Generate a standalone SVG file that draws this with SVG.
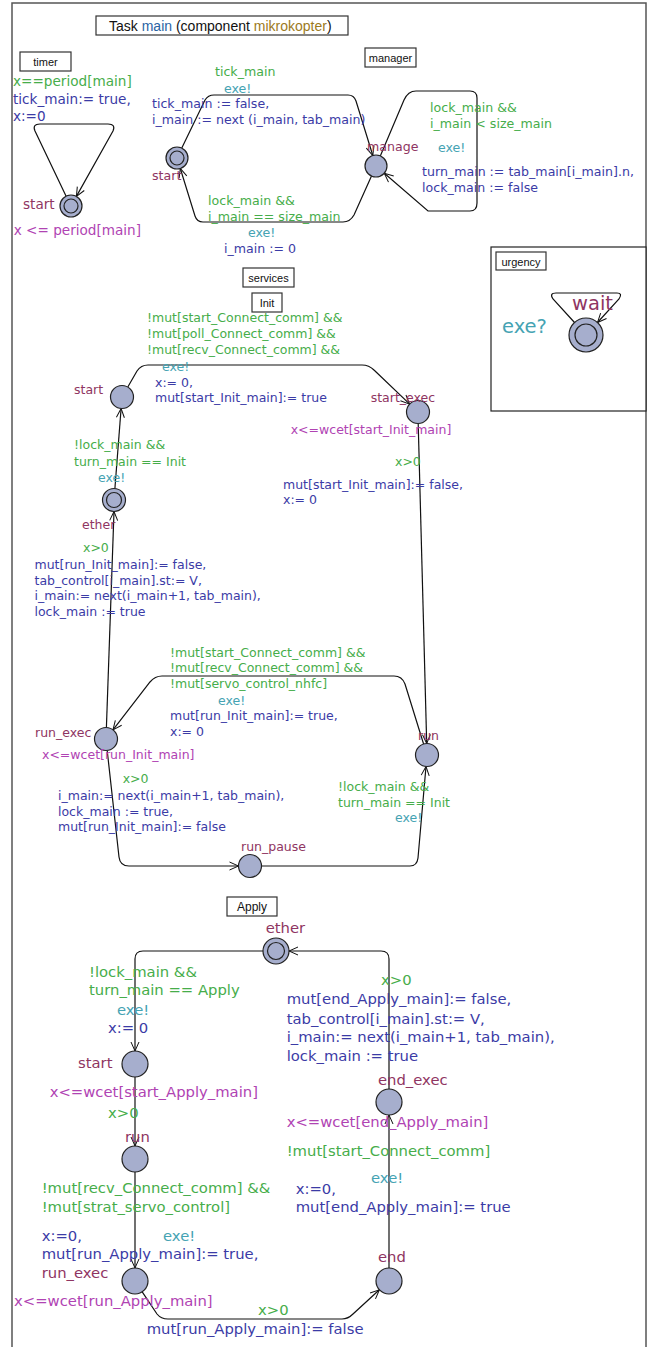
<svg xmlns="http://www.w3.org/2000/svg" width="652" height="1347" viewBox="0 0 652 1347">
<defs>
<marker id="ah" markerWidth="12" markerHeight="12" refX="10" refY="6" orient="auto" markerUnits="userSpaceOnUse"><path d="M1,2 L10,6 L1,10" fill="none" stroke="#111" stroke-width="1"/></marker>
</defs>
<style>
text{font-family:"DejaVu Sans","Noto Sans",sans-serif;}
.lbl{font-family:"Liberation Sans",Arial,sans-serif;fill:#111;}
.box{fill:#fff;stroke:#333;stroke-width:1.2;}
.g{fill:#46ad4a;}
.s{fill:#45a3b3;}
.u{fill:#3b3ba6;}
.n{fill:#8f3562;}
.i{fill:#b043b3;}
.f1{font-size:13.6px;}
.f2{font-size:12.6px;}
.f3{font-size:12.5px;}
.f4{font-size:14.8px;}
.f5{font-size:19.5px;}
.loc{fill:#a6aecd;stroke:#222;stroke-width:1.2;}
.inner{fill:none;stroke:#222;stroke-width:1.2;}
.e{fill:none;stroke:#111;stroke-width:1.2;marker-end:url(#ah);}
</style>
<rect x="0" y="0" width="652" height="1347" fill="#fff"/>
<rect x="12" y="3" width="634" height="1370" fill="none" stroke="#555" stroke-width="1.5"/>
<g id="title">
<rect class="box" x="96" y="16" width="252" height="19"/>
<text class="lbl" x="109" y="31" font-size="14">Task <tspan fill="#2a64a4">main</tspan> (component <tspan fill="#9c7a1c">mikrokopter</tspan>)</text>
</g>
<g id="boxes">
<rect class="box" x="20" y="52" width="51" height="19"/><text class="lbl" x="45.5" y="66" font-size="11" text-anchor="middle">timer</text>
<rect class="box" x="365" y="48" width="51" height="19"/><text class="lbl" x="390.5" y="62" font-size="11" text-anchor="middle">manager</text>
<rect x="491" y="247" width="155" height="164" fill="#fff" stroke="#222" stroke-width="1.2"/>
<rect class="box" x="496" y="252" width="50" height="18"/><text class="lbl" x="521" y="266" font-size="11" text-anchor="middle">urgency</text>
<rect class="box" x="243" y="268" width="51" height="19"/><text class="lbl" x="268.5" y="282" font-size="11" text-anchor="middle">services</text>
<rect class="box" x="252" y="293" width="30" height="19"/><text class="lbl" x="267" y="307" font-size="11" text-anchor="middle">Init</text>
<rect class="box" x="227" y="897" width="50" height="19"/><text class="lbl" x="252" y="911" font-size="12" text-anchor="middle">Apply</text>
</g>
<g id="connectors">
<path class="e" d="M66,196 L35,131 Q32,124 40,124 L108,124 Q116,124 113,131 L76.4,196.4"/>
<path class="e" d="M181.8,148 L205,100 Q208,95 214,95 L348,95 Q354,95 356,101 L372.8,155.5"/>
<path class="e" d="M371.5,176 L354,215 Q350,222 343,222 L203,222 Q197,222 195,216 L180.3,168.5"/>
<path class="e" d="M380.3,156 L404,100 Q408,91 416,91 L470,91 Q477,91 477,98 L477,203 Q477,211 470,211 L428,211 L384.3,173.2"/>
<path class="e" d="M574.5,322.5 L553,299 Q549,293 556,293 L617,293 Q623,293 619,299 L597.5,322.5"/>
<path class="e" d="M114.9,488.5 L121.1,408.5"/>
<path class="e" d="M127.8,387 L137,371 Q141,365 148,365 L362,365 Q369,365 374,370 L409.7,404.1"/>
<path class="e" d="M418.2,423.5 L426.7,743.5"/>
<path class="e" d="M423.6,744 L405,684 Q402,676 394,676 L162,676 Q155,676 150,682 L113,729.9"/>
<path class="e" d="M106.4,727.5 L114,511.5"/>
<path class="e" d="M107.2,750.5 L119,857 Q120,866 129,866 L238.5,866"/>
<path class="e" d="M261.5,866 L410,866 Q417,866 418,858 L426,766.5"/>
<path class="e" d="M263,951 L143,951 Q135,951 135,959 L135,1051"/>
<path class="e" d="M135,1077 L135,1146"/>
<path class="e" d="M135,1172 L135,1268"/>
<path class="e" d="M142.2,1291.8 L157,1314 Q161,1319 168,1319 L342,1319 Q348,1319 353,1314 L379.4,1289.8"/>
<path class="e" d="M389,1268 L389,1115"/>
<path class="e" d="M389,1089 L389,959 Q389,951 381,951 L289,951"/>
</g>
<g id="labels">
<text class="f1 g" x="13" y="86">x==period[main]</text>
<text class="f1 u" x="13" y="104">tick_main:= true,</text>
<text class="f1 u" x="13" y="121">x:=0</text>
<text class="f2 g" x="215" y="76">tick_main</text>
<text class="f2 s" x="224" y="93">exe!</text>
<text class="f2 u" x="152" y="108">tick_main := false,</text>
<text class="f2 u" x="152" y="124">i_main := next (i_main, tab_main)</text>
<text class="f2 g" x="208" y="205">lock_main &amp;&amp;</text>
<text class="f2 g" x="208" y="221">i_main == size_main</text>
<text class="f2 s" x="248" y="237">exe!</text>
<text class="f2 u" x="224" y="253">i_main := 0</text>
<text class="f2 g" x="430" y="112">lock_main &amp;&amp;</text>
<text class="f2 g" x="430" y="128">i_main &lt; size_main</text>
<text class="f2 s" x="438" y="152">exe!</text>
<text class="f2 u" x="422" y="176">turn_main := tab_main[i_main].n,</text>
<text class="f2 u" x="422" y="192">lock_main := false</text>
<text class="f5 s" x="502" y="333">exe?</text>
<text class="f3 g" x="147" y="322">!mut[start_Connect_comm] &amp;&amp;</text>
<text class="f3 g" x="147" y="338">!mut[poll_Connect_comm] &amp;&amp;</text>
<text class="f3 g" x="147" y="354">!mut[recv_Connect_comm] &amp;&amp;</text>
<text class="f3 s" x="162" y="371">exe!</text>
<text class="f3 u" x="155" y="387">x:= 0,</text>
<text class="f3 u" x="155" y="402">mut[start_Init_main]:= true</text>
<text class="f3 g" x="74" y="449">!lock_main &amp;&amp;</text>
<text class="f3 g" x="74" y="466">turn_main == Init</text>
<text class="f3 s" x="98" y="482">exe!</text>
<text class="f3 g" x="395" y="466">x&gt;0</text>
<text class="f3 u" x="283" y="489">mut[start_Init_main]:= false,</text>
<text class="f3 u" x="283" y="504">x:= 0</text>
<text class="f3 g" x="83" y="552">x&gt;0</text>
<text class="f3 u" x="34.5" y="569">mut[run_Init_main]:= false,</text>
<text class="f3 u" x="34.5" y="585">tab_control[i_main].st:= V,</text>
<text class="f3 u" x="34.5" y="600">i_main:= next(i_main+1, tab_main),</text>
<text class="f3 u" x="34.5" y="616">lock_main := true</text>
<text class="f3 g" x="170" y="657">!mut[start_Connect_comm] &amp;&amp;</text>
<text class="f3 g" x="170" y="672">!mut[recv_Connect_comm] &amp;&amp;</text>
<text class="f3 g" x="170" y="688">!mut[servo_control_nhfc]</text>
<text class="f3 s" x="218" y="705">exe!</text>
<text class="f3 u" x="170" y="720">mut[run_Init_main]:= true,</text>
<text class="f3 u" x="170" y="736">x:= 0</text>
<text class="f3 g" x="122.7" y="783">x&gt;0</text>
<text class="f3 u" x="58" y="800">i_main:= next(i_main+1, tab_main),</text>
<text class="f3 u" x="58" y="816">lock_main := true,</text>
<text class="f3 u" x="58" y="831">mut[run_Init_main]:= false</text>
<text class="f3 g" x="338" y="791">!lock_main &amp;&amp;</text>
<text class="f3 g" x="338" y="807">turn_main == Init</text>
<text class="f3 s" x="395" y="822">exe!</text>
<text class="f4 g" x="89" y="977">!lock_main &amp;&amp;</text>
<text class="f4 g" x="89" y="995">turn_main == Apply</text>
<text class="f4 s" x="117" y="1015">exe!</text>
<text class="f4 u" x="108" y="1033">x:= 0</text>
<text class="f4 g" x="108" y="1118">x&gt;0</text>
<text class="f4 g" x="41.7" y="1193">!mut[recv_Connect_comm] &amp;&amp;</text>
<text class="f4 g" x="41.7" y="1212">!mut[strat_servo_control]</text>
<text class="f4 u" x="41.7" y="1241">x:=0,</text>
<text class="f4 s" x="163" y="1241">exe!</text>
<text class="f4 u" x="41.7" y="1259">mut[run_Apply_main]:= true,</text>
<text class="f4 g" x="258" y="1315">x&gt;0</text>
<text class="f4 u" x="146.7" y="1334">mut[run_Apply_main]:= false</text>
<text class="f4 g" x="286.7" y="1156">!mut[start_Connect_comm]</text>
<text class="f4 s" x="371" y="1183">exe!</text>
<text class="f4 u" x="295.7" y="1194">x:=0,</text>
<text class="f4 u" x="295.7" y="1212">mut[end_Apply_main]:= true</text>
<text class="f4 g" x="381" y="985">x&gt;0</text>
<text class="f4 u" x="286.7" y="1004">mut[end_Apply_main]:= false,</text>
<text class="f4 u" x="286.7" y="1024">tab_control[i_main].st:= V,</text>
<text class="f4 u" x="286.7" y="1042">i_main:= next(i_main+1, tab_main),</text>
<text class="f4 u" x="286.7" y="1061">lock_main := true</text>
</g>
<g id="timer_start"><circle class="loc" cx="71" cy="206" r="11"/><circle class="inner" cx="71" cy="206" r="7"/><text class="f1 n" x="23" y="209">start</text><text class="f1 i" x="13.7" y="235">x &lt;= period[main]</text></g>
<g id="manager_start"><circle class="loc" cx="177" cy="158" r="11"/><circle class="inner" cx="177" cy="158" r="7"/><text class="f2 n" x="152" y="180">start</text></g>
<g id="manager_manage"><circle class="loc" cx="376" cy="166" r="11"/><text class="f2 n" x="367" y="151">manage</text></g>
<g id="urgency_wait"><circle class="loc" cx="586" cy="335" r="17"/><circle class="inner" cx="586" cy="335" r="11"/><text class="f5 n" x="572" y="310">wait</text></g>
<g id="init_start"><circle class="loc" cx="122" cy="397" r="11.5"/><text class="f3 n" x="74" y="394">start</text></g>
<g id="init_ether"><circle class="loc" cx="114" cy="500" r="11.5"/><circle class="inner" cx="114" cy="500" r="7.5"/><text class="f3 n" x="82" y="529">ether</text></g>
<g id="init_start_exec"><circle class="loc" cx="418" cy="412" r="11.5"/><text class="f3 n" x="370.7" y="402">start_exec</text><text class="f3 i" x="290.7" y="434">x&lt;=wcet[start_Init_main]</text></g>
<g id="init_run"><circle class="loc" cx="427" cy="755" r="11.5"/><text class="f3 n" x="418" y="740">run</text></g>
<g id="init_run_exec"><circle class="loc" cx="106" cy="739" r="11.5"/><text class="f3 n" x="35" y="737">run_exec</text><text class="f3 i" x="42" y="759">x&lt;=wcet[run_Init_main]</text></g>
<g id="init_run_pause"><circle class="loc" cx="250" cy="866" r="11.5"/><text class="f3 n" x="241" y="851">run_pause</text></g>
<g id="apply_ether"><circle class="loc" cx="276" cy="951" r="13"/><circle class="inner" cx="276" cy="951" r="8.5"/><text class="f4 n" x="265.7" y="933">ether</text></g>
<g id="apply_start"><circle class="loc" cx="135" cy="1064" r="13"/><text class="f4 n" x="78" y="1068">start</text><text class="f4 i" x="49.7" y="1097">x&lt;=wcet[start_Apply_main]</text></g>
<g id="apply_run"><circle class="loc" cx="135" cy="1159" r="13"/><text class="f4 n" x="125" y="1142">run</text></g>
<g id="apply_run_exec"><circle class="loc" cx="135" cy="1281" r="13"/><text class="f4 n" x="41.7" y="1278">run_exec</text><text class="f4 i" x="14" y="1306">x&lt;=wcet[run_Apply_main]</text></g>
<g id="apply_end"><circle class="loc" cx="389" cy="1281" r="13"/><text class="f4 n" x="378" y="1262">end</text></g>
<g id="apply_end_exec"><circle class="loc" cx="389" cy="1102" r="13"/><text class="f4 n" x="378" y="1085">end_exec</text><text class="f4 i" x="286.7" y="1127">x&lt;=wcet[end_Apply_main]</text></g>
</svg>
